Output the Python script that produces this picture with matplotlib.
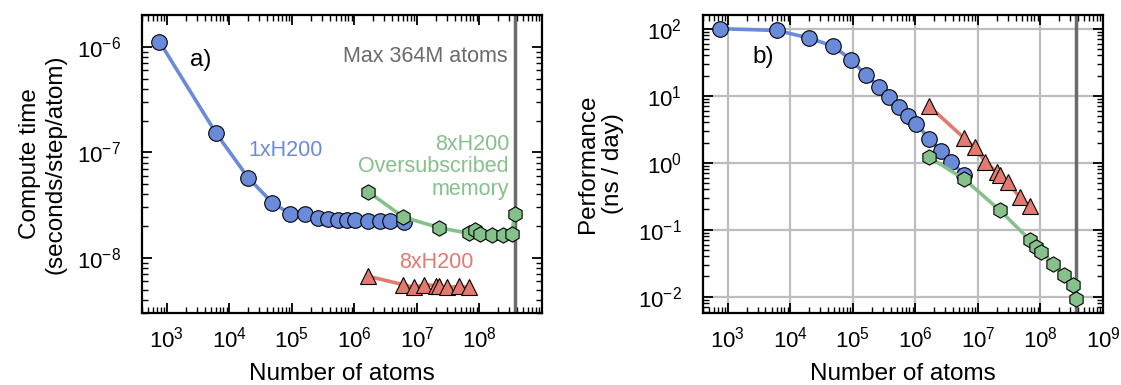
import matplotlib
matplotlib.use("Agg")
import matplotlib.pyplot as plt
from matplotlib.ticker import LogLocator, NullFormatter

plt.rcParams['font.family'] = ['Liberation Sans', 'DejaVu Sans']
plt.rcParams['mathtext.fontset'] = 'custom'
plt.rcParams['mathtext.rm'] = 'Liberation Sans'
plt.rcParams['mathtext.it'] = 'Liberation Sans:italic'

# Single GPU runs
atoms_1gpu = [760, 6100, 20000, 48800, 94000, 163000, 261000, 384000, 544000,
              765000, 1.02e6, 1.67e6, 2.56e6, 3.7e6, 6.1e6]
time_1gpu = [1.12e-6, 1.52e-7, 5.73e-8, 3.31e-8, 2.62e-8, 2.58e-8, 2.40e-8,
             2.31e-8, 2.28e-8, 2.27e-8, 2.27e-8, 2.25e-8, 2.25e-8, 2.25e-8, 2.2e-8]
perf_1gpu = [100, 94, 72.6, 54.5, 34.4, 20.1, 13.5, 9.55, 6.78, 5.02, 3.82,
             2.28, 1.48, 1.02, 0.662]

# Eight GPU runs
atoms_8gpu = [1.67e6, 6.0e6, 8.9e6, 1.3e7, 2.0e7, 2.25e7, 3.0e7, 4.7e7, 6.9e7]
time_8gpu = [6.68e-9, 5.57e-9, 5.25e-9, 5.57e-9, 5.45e-9, 5.35e-9, 5.25e-9,
             5.35e-9, 5.25e-9]
perf_8gpu = [6.92, 2.34, 1.69, 1.04, 0.73, 0.66, 0.508, 0.303, 0.223]

# Eight GPU runs with oversubscribed memory
atoms_8gpu_os = [1.67e6, 6.0e6, 2.25e7, 6.7e7, 8.5e7, 1.03e8, 1.6e8, 2.35e8,
                 3.3e8, 3.64e8]
time_8gpu_os = [4.22e-8, 2.44e-8, 1.93e-8, 1.71e-8, 1.82e-8, 1.67e-8, 1.63e-8,
                1.63e-8, 1.70e-8, 2.58e-8]
perf_8gpu_os = [1.2, 0.571, 0.194, 0.071, 0.0545, 0.0465, 0.0311, 0.0213,
                0.0148, 0.0092]

max_atoms = 3.64e8

BLUE = '#6a8bd9'
RED = '#e27a6f'
GREEN = '#86c08a'
GRAY = '#6b6b6b'

fig = plt.figure(figsize=(11.21, 3.85), dpi=100)
ax_a = fig.add_axes([0.1267, 0.187, 0.3568, 0.774])
ax_b = fig.add_axes([0.6271, 0.187, 0.3568, 0.774])

series = [
    (atoms_1gpu, time_1gpu, perf_1gpu, BLUE, 'o', 11.2),
    (atoms_8gpu, time_8gpu, perf_8gpu, RED, '^', 11.8),
    (atoms_8gpu_os, time_8gpu_os, perf_8gpu_os, GREEN, 'h', 11.0),
]

for x, ta, pb, col, mk, ms in series:
    for ax, y in ((ax_a, ta), (ax_b, pb)):
        ax.plot(x, y, color=col, lw=2.6, marker=mk, ms=ms, mfc=col,
                mec='black', mew=0.8, zorder=3)

for ax in (ax_a, ax_b):
    ax.set_xscale('log')
    ax.set_yscale('log')
    ax.set_xlim(400, 1e9)
    ax.axvline(max_atoms, color=GRAY, lw=2.5, zorder=2)
    ax.xaxis.set_major_locator(LogLocator(base=10, numticks=20))
    ax.xaxis.set_minor_locator(LogLocator(base=10, subs=range(2, 10), numticks=20))
    ax.xaxis.set_minor_formatter(NullFormatter())
    ax.yaxis.set_minor_formatter(NullFormatter())
    ax.tick_params(which='both', direction='in', top=True, right=True,
                   labelsize=16)
    ax.tick_params(axis='x', pad=10)
    ax.tick_params(axis='y', pad=15)
    ax.tick_params(which='major', length=7, width=1.3)
    ax.tick_params(which='minor', length=4, width=1.0)
    for sp in ax.spines.values():
        sp.set_linewidth(1.6)
    ax.set_xlabel('Number of atoms', fontsize=17.5, labelpad=7)

ax_a.set_ylim(3e-9, 2e-6)
ax_a.set_ylabel('Compute time\n(seconds/step/atom)', fontsize=17.5, labelpad=8)
ax_a.set_xticks([1e3, 1e4, 1e5, 1e6, 1e7, 1e8])

ax_b.set_ylim(5.7e-3, 1.6e2)
ax_b.set_ylabel('Performance\n(ns / day)', fontsize=17.5, labelpad=10)
ax_b.set_xticks([1e3, 1e4, 1e5, 1e6, 1e7, 1e8, 1e9])
ax_b.grid(True, which='major', color='#bdbdbd', lw=1.6, zorder=0)
ax_b.set_axisbelow(True)

ax_a.text(0.12, 0.85, 'a)', transform=ax_a.transAxes, fontsize=17.5,
          ha='left', va='center')
ax_b.text(0.1225, 0.859, 'b)', transform=ax_b.transAxes, fontsize=17.5,
          ha='left', va='center')
ax_a.text(0.915, 0.862, 'Max 364M atoms', transform=ax_a.transAxes,
          fontsize=15.5, color=GRAY, ha='right', va='center')
ax_a.text(0.359, 0.547, '1xH200', transform=ax_a.transAxes, fontsize=15.5,
          color=BLUE, ha='center', va='center')
ax_a.text(0.9175, 0.49, '8xH200\nOversubscribed\nmemory',
          transform=ax_a.transAxes, fontsize=15.5, color=GREEN, ha='right',
          va='center', linespacing=1.1)
ax_a.text(0.735, 0.168, '8xH200', transform=ax_a.transAxes, fontsize=15.5,
          color=RED, ha='center', va='center')

fig.savefig('out.png', dpi=100)
